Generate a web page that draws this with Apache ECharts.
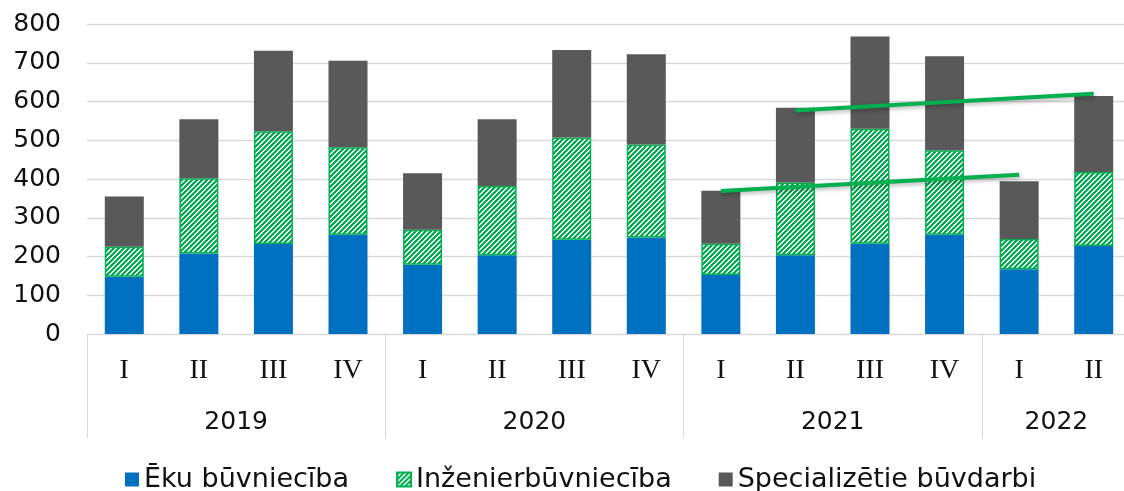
<!DOCTYPE html>
<html>
<head>
<meta charset="utf-8">
<script src="https://cdn.jsdelivr.net/npm/echarts@6/dist/echarts.min.js"></script>
<style>
  html, body { margin: 0; padding: 0; background: #fff; }
  #main { width: 1124px; height: 491px; }
</style>
</head>
<body>
<div id="main"></div>
<script>
var years = ['2019', '2020', '2021', '2022'];
var groupSizes = [4, 4, 4, 2];
var quarters = ['I', 'II', 'III', 'IV', 'I', 'II', 'III', 'IV', 'I', 'II', 'III', 'IV', 'I', 'II'];
var seriesNames = ['Ēku būvniecība', 'Inženierbūvniecība', 'Specializētie būvdarbi'];
var eku = [148, 208, 232, 256, 179, 203, 243, 249, 152, 203, 233, 256, 167, 227];
var inzenier = [77, 194, 291, 226, 90, 179, 264, 240, 81, 188, 297, 218, 78, 191];
var special = [130, 152, 208, 223, 146, 172, 226, 233, 137, 193, 238, 243, 149, 196];
// trend lines drawn over the 2021-2022 bars
var trendLow = [null, null, null, null, null, null, null, null, 369, null, null, null, 411, null];
var trendHigh = [null, null, null, null, null, null, null, null, null, 577, null, null, null, 620];

var BLUE = '#0070C0', GREEN = '#00B050', DARK = '#595959', GRID = '#D9D9D9';

// category keys so duplicated quarter names stay separate
var cats = [];
var k = 0;
years.forEach(function (y, gi) {
  for (var i = 0; i < groupSizes[gi]; i++) {
    cats.push(y + '-' + quarters[k]);
    k++;
  }
});

// year label positions on a 0..14 value axis (centre of each group)
var yearAt = {};
var pos = 0;
years.forEach(function (y, gi) {
  yearAt[pos + groupSizes[gi] / 2] = y;
  pos += groupSizes[gi];
});
var groupStarts = {};
pos = 0;
groupSizes.forEach(function (s) { groupStarts[pos] = true; pos += s; });

// pixel hatch "///" like the excel pattern fill
function hatch() {
  var c = document.createElement('canvas');
  var n = 5;
  c.width = n; c.height = n;
  var ctx = c.getContext('2d');
  ctx.fillStyle = '#fff';
  ctx.fillRect(0, 0, n, n);
  ctx.fillStyle = GREEN;
  for (var x = 0; x < n; x++) {
    for (var y = 0; y < n; y++) {
      if ((x + y) % n < 3) ctx.fillRect(x, y, 1, 1);
    }
  }
  return c;
}

var chart = echarts.init(document.getElementById('main'), null, { renderer: 'canvas' });

var font = 'DejaVu Sans';
var trendStyle = {
  width: 4,
  color: GREEN,
  shadowColor: 'rgba(0,0,0,0.3)',
  shadowBlur: 4,
  shadowOffsetY: 2,
  shadowOffsetX: 1
};

var option = {
  backgroundColor: '#ffffff',
  animation: false,
  textStyle: { fontFamily: font },
  grid: { left: 87, top: 24, width: 1044, height: 310, outerBoundsMode: 'none', containLabel: false },
  legend: {
    data: seriesNames,
    left: 120,
    top: 461,
    icon: 'rect',
    itemWidth: 14,
    itemHeight: 14,
    itemGap: 47,
    textStyle: { fontFamily: font, fontSize: 27, color: '#111' }
  },
  xAxis: [{
    type: 'category',
    data: cats,
    position: 'bottom',
    axisLine: { lineStyle: { color: GRID, width: 1 } },
    axisTick: {
      show: true,
      length: 104,
      interval: function (i) { return !!groupStarts[i]; },
      lineStyle: { color: GRID, width: 1 }
    },
    axisLabel: {
      interval: 0,
      margin: 23,
      fontFamily: 'Liberation Serif',
      fontSize: 28,
      lineHeight: 28,
      color: '#111',
      formatter: function (v) { return v.split('-')[1]; }
    }
  }, {
    type: 'value',
    position: 'bottom',
    min: 0,
    max: cats.length,
    interval: 1,
    axisLine: { show: false },
    axisTick: { show: false },
    splitLine: { show: false },
    axisLabel: {
      margin: 76,
      fontFamily: font,
      fontSize: 25,
      lineHeight: 25,
      color: '#111',
      formatter: function (v) { return yearAt[v] || ''; }
    }
  }],
  yAxis: {
    type: 'value',
    min: 0,
    max: 800,
    interval: 100,
    axisLine: { show: false },
    axisTick: { show: false },
    splitLine: { lineStyle: { color: GRID, width: 1.3 } },
    axisLabel: { margin: 26, fontFamily: font, fontSize: 25, color: '#111' }
  },
  series: [{
    name: seriesNames[0],
    type: 'bar',
    stack: 'total',
    barWidth: 39,
    data: eku,
    itemStyle: { color: BLUE }
  }, {
    name: seriesNames[1],
    type: 'bar',
    stack: 'total',
    barWidth: 39,
    data: inzenier,
    itemStyle: { color: { image: hatch(), repeat: 'repeat' }, borderColor: GREEN, borderWidth: 1.5 }
  }, {
    name: seriesNames[2],
    type: 'bar',
    stack: 'total',
    barWidth: 39,
    data: special,
    itemStyle: { color: DARK }
  }, {
    name: 'trend1',
    type: 'line',
    data: trendLow,
    connectNulls: true,
    symbol: 'none',
    z: 5,
    lineStyle: trendStyle
  }, {
    name: 'trend2',
    type: 'line',
    data: trendHigh,
    connectNulls: true,
    symbol: 'none',
    z: 5,
    lineStyle: trendStyle
  }]
};

chart.setOption(option);
</script>
</body>
</html>
